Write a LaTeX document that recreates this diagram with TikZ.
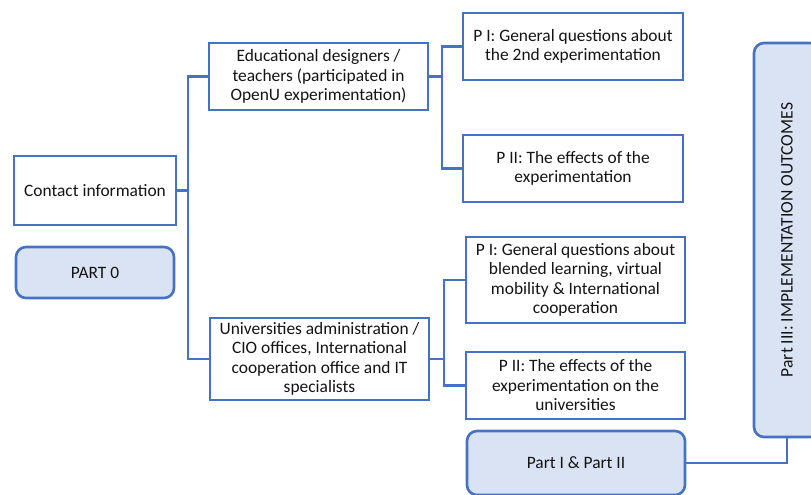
\documentclass[tikz,border=0pt]{standalone}
\usepackage{fontspec}
\setmainfont{Carlito}
\definecolor{bord}{HTML}{4472C4}
\definecolor{lfill}{HTML}{DAE3F3}
\definecolor{txt}{HTML}{141414}
\begin{document}
\begin{tikzpicture}[x=1pt,y=-1pt,
  every node/.style={font=\fontsize{17.4}{19.5}\selectfont, text=txt, align=center, inner sep=0pt},
  sqbox/.style={draw=bord, line width=2.5pt, fill=white, rectangle},
  rbox/.style={draw=bord, line width=2.6pt, fill=lfill, rectangle, rounded corners=10pt},
  conn/.style={draw=bord, line width=2.6pt}]
\useasboundingbox (0,0) rectangle (811,495);
\clip (0,0) rectangle (811,495);

\node[sqbox, minimum width=162pt, minimum height=69pt] (contact) at (95,190.5) {Contact information};
\node[rbox, minimum width=158pt, minimum height=51pt] (part0) at (95,272.5) {PART 0};
\node[sqbox, minimum width=219pt, minimum height=67pt] (edu) at (318.5,76.5) {Educational designers /\\teachers (participated in\\OpenU experimentation)};
\node[sqbox, minimum width=219pt, minimum height=82pt] (univ) at (319.5,359) {Universities administration /\\CIO offices, International\\cooperation office and IT\\specialists};
\node[sqbox, minimum width=220pt, minimum height=67pt] (t1) at (573,46.5) {P I: General questions about\\the 2nd experimentation};
\node[sqbox, minimum width=220pt, minimum height=67pt] (t2) at (573,168.5) {P II: The effects of the\\experimentation};
\node[sqbox, minimum width=219pt, minimum height=86pt] (b1) at (575.5,280) {P I: General questions about\\blended learning, virtual\\mobility \& International\\cooperation};
\node[sqbox, minimum width=219pt, minimum height=67pt] (b2) at (575.5,385.5) {P II: The effects of the\\experimentation on the\\universities};
\node[rbox, minimum width=218pt, minimum height=64pt] (p12) at (576,463) {Part I \& Part II};
\node[rbox, minimum width=66pt, minimum height=394pt] (p3) at (787,240) {};
\node[rotate=90, font=\fontsize{17.6}{19}\selectfont] (p3t) at (p3.center) {Part III: IMPLEMENTATION OUTCOMES};

\coordinate (j1) at (188,190.5);
\coordinate (j2) at (442,76.5);
\coordinate (j3) at (444,359);

\draw[conn] (contact.east) -- (j1);
\draw[conn] (edu.west) -| (j1) |- (univ.west);
\draw[conn] (edu.east) -- (j2);
\draw[conn] (t1.west) -| (j2) |- (t2.west);
\draw[conn] (univ.east) -- (j3);
\draw[conn] (b1.west) -| (j3) |- (b2.west);
\draw[conn] (p12.east) -| (p3.south);
\end{tikzpicture}
\end{document}
